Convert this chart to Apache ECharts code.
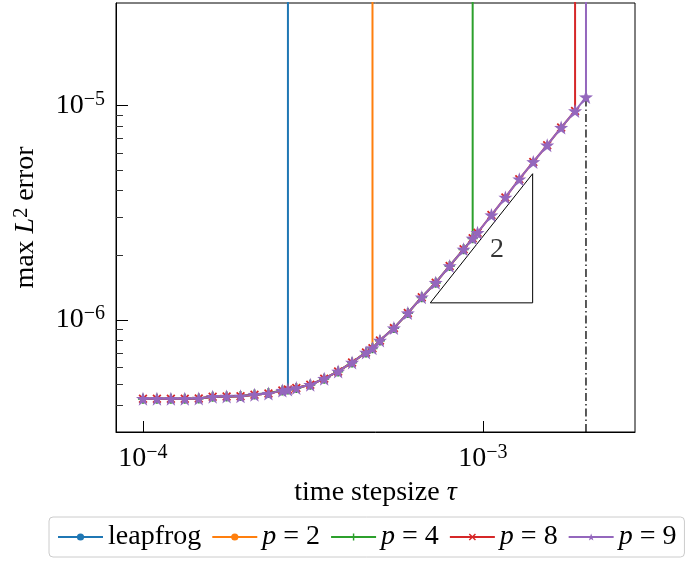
<!DOCTYPE html>
<html><head><meta charset="utf-8">
<script src="https://cdn.jsdelivr.net/npm/echarts@6/dist/echarts.min.js"></script>
<style>html,body{margin:0;padding:0;background:#fff}#c{width:688px;height:564px}</style>
</head><body><div id="c"></div>
<script>
// time step sizes (common grid incl. stability limits)
const tau = [1.000e-4, 1.099e-4, 1.208e-4, 1.327e-4, 1.459e-4, 1.603e-4, 1.762e-4, 1.936e-4,
  2.128e-4, 2.339e-4, 2.570e-4, 2.669e-4, 2.825e-4, 3.105e-4, 3.412e-4, 3.750e-4, 4.121e-4,
  4.529e-4, 4.732e-4, 4.977e-4, 5.470e-4, 6.012e-4, 6.607e-4, 7.261e-4, 7.980e-4, 8.770e-4,
  9.326e-4, 9.638e-4, 1.059e-3, 1.164e-3, 1.279e-3, 1.406e-3, 1.545e-3, 1.698e-3, 1.866e-3,
  2.009e-3];
// max L2 error per method, up to its stability limit
const errLeapfrog = [4.29e-7, 4.29e-7, 4.29e-7, 4.29e-7, 4.30e-7, 4.38e-7, 4.39e-7, 4.40e-7,
  4.48e-7, 4.53e-7, 4.68e-7, 4.73e-7];
const errP2 = [4.29e-7, 4.29e-7, 4.29e-7, 4.29e-7, 4.30e-7, 4.38e-7, 4.39e-7, 4.40e-7,
  4.48e-7, 4.53e-7, 4.68e-7, 4.73e-7, 4.81e-7, 4.98e-7, 5.32e-7, 5.75e-7, 6.33e-7,
  7.05e-7, 7.38e-7];
const errP4 = [4.29e-7, 4.29e-7, 4.29e-7, 4.29e-7, 4.30e-7, 4.38e-7, 4.39e-7, 4.42e-7,
  4.49e-7, 4.56e-7, 4.68e-7, 4.73e-7, 4.81e-7, 4.98e-7, 5.32e-7, 5.75e-7, 6.33e-7,
  7.05e-7, 7.38e-7, 8.01e-7, 9.15e-7, 1.075e-6, 1.275e-6, 1.491e-6, 1.783e-6, 2.132e-6,
  2.399e-6];
const errP8 = [4.29e-7, 4.29e-7, 4.29e-7, 4.29e-7, 4.30e-7, 4.38e-7, 4.39e-7, 4.40e-7,
  4.48e-7, 4.53e-7, 4.68e-7, 4.73e-7, 4.81e-7, 4.98e-7, 5.32e-7, 5.75e-7, 6.33e-7,
  7.05e-7, 7.38e-7, 8.01e-7, 9.15e-7, 1.075e-6, 1.275e-6, 1.491e-6, 1.783e-6, 2.132e-6,
  2.399e-6, 2.547e-6, 3.078e-6, 3.722e-6, 4.528e-6, 5.450e-6, 6.516e-6, 7.876e-6, 9.409e-6];
const errP9 = [4.29e-7, 4.29e-7, 4.29e-7, 4.29e-7, 4.30e-7, 4.38e-7, 4.39e-7, 4.40e-7,
  4.48e-7, 4.53e-7, 4.68e-7, 4.73e-7, 4.81e-7, 4.98e-7, 5.32e-7, 5.75e-7, 6.33e-7,
  7.05e-7, 7.38e-7, 8.01e-7, 9.15e-7, 1.075e-6, 1.275e-6, 1.491e-6, 1.783e-6, 2.132e-6,
  2.399e-6, 2.547e-6, 3.078e-6, 3.722e-6, 4.528e-6, 5.450e-6, 6.516e-6, 7.876e-6, 9.409e-6,
  1.093e-5];
const blowUpError = 1e-1; // error beyond the stability limit
const seriesNames = ['leapfrog', 'p = 2', 'p = 4', 'p = 8', 'p = 9'];
const xMajorTicks = [1e-4, 1e-3];
const yMajorTicks = [1e-6, 1e-5];
const yMinorTicks = [4e-7, 5e-7, 6e-7, 7e-7, 8e-7, 9e-7, 2e-6, 3e-6, 4e-6, 5e-6, 6e-6, 7e-6, 8e-6, 9e-6];
const stabilityLine = [[2.009e-3, 3e-7], [2.009e-3, 1.093e-5]];
const slopeTriangle = [[7e-4, 1.2e-6], [1.4e-3, 1.2e-6], [1.4e-3, 4.8e-6], [7e-4, 1.2e-6]];
const slopeLabel = [[1.1e-3, 2.12e-6]];

const FONT = '"Liberation Serif", "Times New Roman", serif';
const FS = 28;
const SUP = 20;
const colors = ['#1f77b4', '#ff7f0e', '#2ca02c', '#d62728', '#9467bd'];
const symbols = [
  'circle', 'circle',
  'path://M4,0H6V4H10V6H6V10H4V6H0V4H4Z',
  'path://M1.4,0L5,3.6L8.6,0L10,1.4L6.4,5L10,8.6L8.6,10L5,6.4L1.4,10L0,8.6L3.6,5L0,1.4Z',
  'path://M5,0L6.18,3.38L9.76,3.45L6.9,5.62L7.94,9.05L5,7L2.06,9.05L3.1,5.62L0.24,3.45L3.82,3.38Z'
];
const symbolSizes = [6, 6, 10, 9, 14];
const errs = [errLeapfrog, errP2, errP4, errP8, errP9];

function build(err) {
  const d = err.map((e, i) => [tau[i], e]);
  d.push([tau[err.length - 1], blowUpError]);
  return d;
}
function powLabel(v) {
  const e = Math.round(Math.log10(v));
  return '{b|10}{s|' + (e < 0 ? '\u2212' + (-e) : e) + '}';
}
const powRich = {
  b: { fontFamily: FONT, fontSize: FS, color: '#000', lineHeight: 32 },
  s: { fontFamily: FONT, fontSize: SUP, color: '#000', verticalAlign: 'top', lineHeight: 18 }
};

const series = [
  { type: 'line', data: stabilityLine, symbol: 'none', z: 1,
    lineStyle: { color: '#000', width: 1.3, type: [8, 3, 1.5, 3] }, silent: true },
  { type: 'line', data: slopeTriangle, symbol: 'none', z: 1,
    lineStyle: { color: '#000', width: 1 }, silent: true },
  { type: 'scatter', data: slopeLabel, symbolSize: 0, z: 1, silent: true,
    label: { show: true, position: 'inside', formatter: '2', fontFamily: FONT, fontSize: FS, color: '#000' } }
];
errs.forEach((err, i) => {
  series.push({
    name: seriesNames[i], type: 'line', data: build(err), z: 2 + i,
    symbol: symbols[i], symbolSize: symbolSizes[i], showSymbol: true,
    lineStyle: { color: colors[i], width: 2 },
    itemStyle: { color: colors[i], borderWidth: 0 },
    clip: true
  });
});

const chart = echarts.init(document.getElementById('c'));
chart.setOption({
  animation: false,
  backgroundColor: '#fff',
  grid: { left: 116, right: 53, top: 3, bottom: 132, show: true, borderColor: '#000', borderWidth: 1, outerBoundsMode: 'none' },
  xAxis: {
    type: 'log', logBase: 10, min: 8.33e-5, max: 2.8e-3,
    axisLine: { show: true, lineStyle: { color: '#000', width: 1 } },
    axisTick: { show: true, inside: true, length: 11, customValues: xMajorTicks, lineStyle: { color: '#000', width: 1 } },
    axisLabel: { customValues: xMajorTicks, formatter: powLabel, rich: powRich, margin: 11 },
    splitLine: { show: false }, minorTick: { show: false },
    name: 'time stepsize {i|\u03c4}', nameLocation: 'middle', nameGap: 47,
    nameTextStyle: { fontFamily: FONT, fontSize: FS, color: '#000',
      rich: { i: { fontFamily: FONT, fontSize: FS, fontStyle: 'italic', color: '#000' } } }
  },
  yAxis: [{
    type: 'log', logBase: 10, min: 3e-7, max: 3e-5,
    axisLine: { show: true, lineStyle: { color: '#000', width: 1 } },
    axisTick: { show: true, inside: true, length: 12, customValues: yMajorTicks, lineStyle: { color: '#000', width: 1 } },
    axisLabel: { customValues: yMajorTicks, formatter: powLabel, rich: powRich, margin: 11 },
    splitLine: { show: false }, minorTick: { show: false },
    name: 'max {i|L}{s|2} error', nameLocation: 'middle', nameGap: 76, nameRotate: 90,
    nameTextStyle: { fontFamily: FONT, fontSize: FS, color: '#000',
      rich: {
        i: { fontFamily: FONT, fontSize: FS, fontStyle: 'italic', color: '#000' },
        s: { fontFamily: FONT, fontSize: SUP, color: '#000', verticalAlign: 'top', lineHeight: 18 }
      } }
  }, {
    type: 'log', logBase: 10, min: 3e-7, max: 3e-5, position: 'left',
    axisLine: { show: false },
    axisTick: { show: true, inside: true, length: 7, customValues: yMinorTicks, lineStyle: { color: '#333', width: 1 } },
    axisLabel: { show: false },
    splitLine: { show: false }, minorTick: { show: false }
  }],
  legend: {
    data: seriesNames, left: 49, top: 517, orient: 'horizontal',
    itemWidth: 45, itemHeight: 9, itemGap: 10, padding: [6, 8, 6, 8],
    borderColor: '#cccccc', borderWidth: 1, borderRadius: 4,
    textStyle: { fontFamily: FONT, fontSize: FS, color: '#000',
      rich: { i: { fontFamily: FONT, fontSize: FS, fontStyle: 'italic', color: '#000' } } },
    formatter: n => n.startsWith('p') ? '{i|p} = ' + n.slice(4) : n
  },
  series: series
});
</script></body></html>
